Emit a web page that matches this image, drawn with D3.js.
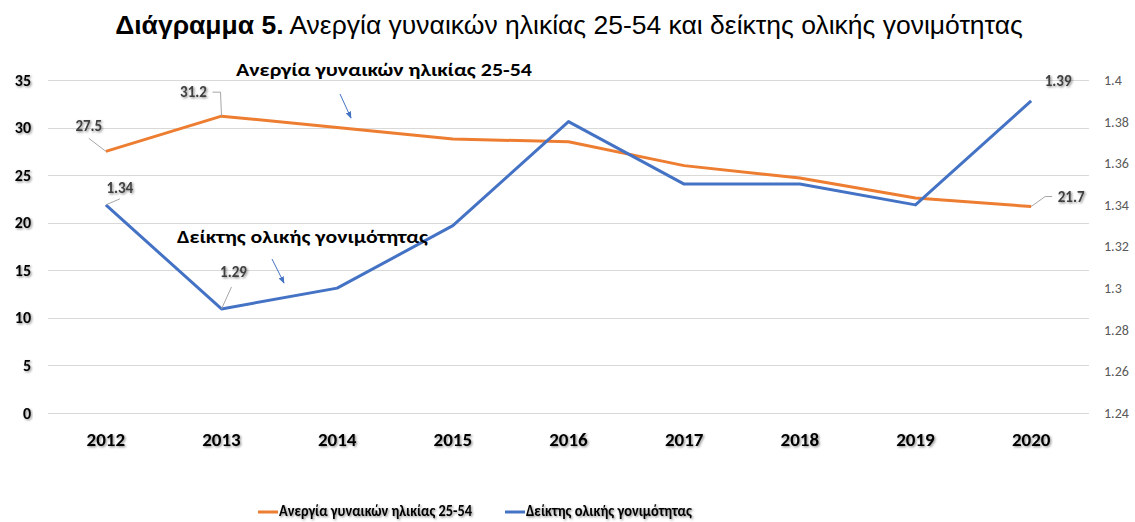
<!DOCTYPE html>
<html>
<head>
<meta charset="utf-8">
<script src="https://cdn.jsdelivr.net/npm/d3@7"></script>
<style>
  html, body { margin: 0; padding: 0; background: #fff; }
  svg { display: block; }
  .cal { font-family: Carlito, "Open Sans", sans-serif; }
</style>
</head>
<body>
<svg id="chart" width="1135" height="522"></svg>
<script>
// Years on the horizontal axis
const years = ["2012", "2013", "2014", "2015", "2016", "2017", "2018", "2019", "2020"];
// Unemployment of women aged 25-54 (%), left axis
const unemployment = [27.5, 31.2, 30.0, 28.8, 28.5, 26.0, 24.7, 22.6, 21.7];
// Total fertility rate, right axis
const fertility = [1.34, 1.29, 1.30, 1.33, 1.38, 1.35, 1.35, 1.34, 1.39];
// Axis ticks
const leftTicks = [0, 5, 10, 15, 20, 25, 30, 35];
const rightTicks = [1.24, 1.26, 1.28, 1.30, 1.32, 1.34, 1.36, 1.38, 1.40];
const seriesNames = ["Ανεργία γυναικών ηλικίας 25-54", "Δείκτης ολικής γονιμότητας"];
const colors = ["#ED7D31", "#4472C4"];

const svg = d3.select("#chart");

// soft shadow used on bold labels
const defs = svg.append("defs");
const f = defs.append("filter").attr("id", "shadow").attr("x", "-20%").attr("y", "-30%").attr("width", "140%").attr("height", "160%");
f.append("feDropShadow").attr("dx", 1.2).attr("dy", 1.2).attr("stdDeviation", 0.9)
  .attr("flood-color", "#000").attr("flood-opacity", 0.45);
defs.append("marker").attr("id", "arrow").attr("viewBox", "0 0 10 10")
  .attr("refX", 9).attr("refY", 5).attr("markerWidth", 7).attr("markerHeight", 7)
  .attr("orient", "auto-start-reverse")
  .append("path").attr("d", "M0,1 L10,5 L0,9 Z").attr("fill", "#4472C4");

const plotLeft = 48, plotRight = 1089, plotTop = 80, plotBottom = 413;
const x = d3.scaleBand().domain(years).range([plotLeft, plotRight]).padding(0);
const cx = d => x(d) + x.bandwidth() / 2;
const yL = d3.scaleLinear().domain([0, 35]).range([plotBottom, plotTop]);
const yR = d3.scaleLinear().domain([1.24, 1.40]).range([plotBottom, plotTop]);

// Title
const title = svg.append("text").attr("x", 569).attr("y", 34).attr("text-anchor", "middle")
  .style("font-family", "'Liberation Sans', Arial, sans-serif").style("font-size", "26.5px").attr("fill", "#000");
title.append("tspan").attr("font-weight", "bold").text("Διάγραμμα 5.");
title.append("tspan").text(" Ανεργία γυναικών ηλικίας 25-54 και δείκτης ολικής γονιμότητας");

// Gridlines
svg.append("g").selectAll("line").data(leftTicks).join("line")
  .attr("x1", plotLeft).attr("x2", plotRight)
  .attr("y1", d => Math.round(yL(d)) + 0.5).attr("y2", d => Math.round(yL(d)) + 0.5)
  .attr("stroke", "#d9d9d9").attr("stroke-width", 1);

// Left axis
const gL = svg.append("g").attr("transform", `translate(${plotLeft},0)`)
  .call(d3.axisLeft(yL).tickValues(leftTicks).tickSize(0).tickPadding(17));
gL.select(".domain").remove();
gL.selectAll("text").attr("class", "cal").style("font-size", "16px").style("font-weight", "bold")
  .attr("fill", "#000").attr("filter", "url(#shadow)").attr("font-family", null);

// Right axis
const gR = svg.append("g").attr("transform", `translate(${plotRight},0)`)
  .call(d3.axisRight(yR).tickValues(rightTicks).tickSize(0).tickPadding(15)
    .tickFormat(d => String(+d.toFixed(2))));
gR.select(".domain").remove();
gR.selectAll("text").attr("class", "cal").style("font-size", "14px")
  .attr("fill", "#595959").attr("font-family", null);

// Bottom axis
const gX = svg.append("g").attr("transform", `translate(0,${plotBottom})`)
  .call(d3.axisBottom(x).tickSize(0).tickPadding(20));
gX.select(".domain").remove();
gX.selectAll("text").attr("class", "cal").style("font-size", "19px").style("font-weight", "bold")
  .attr("fill", "#000").attr("filter", "url(#shadow)").attr("font-family", null);

// Lines
const lineL = d3.line().x((d, i) => cx(years[i])).y(d => yL(d));
const lineR = d3.line().x((d, i) => cx(years[i])).y(d => yR(d));
svg.append("path").datum(unemployment).attr("d", lineL).attr("fill", "none")
  .attr("stroke", colors[0]).attr("stroke-width", 3).attr("stroke-linejoin", "round");
svg.append("path").datum(fertility).attr("d", lineR).attr("fill", "none")
  .attr("stroke", colors[1]).attr("stroke-width", 3).attr("stroke-linejoin", "round");

// Data labels with leader lines
const labels = [
  { yr: "2012", v: unemployment[0], s: yL, txt: "27.5", dx: -17, dy: -25, lead: [[-17, -13], [0, 0]] },
  { yr: "2013", v: unemployment[1], s: yL, txt: "31.2", dx: -28, dy: -24, lead: [[-9, -24], [-1, -24], [0, 0]] },
  { yr: "2012", v: fertility[0], s: yR, txt: "1.34", dx: 14, dy: -17, lead: [[14, -6], [0, 0]] },
  { yr: "2013", v: fertility[1], s: yR, txt: "1.29", dx: 12, dy: -37, lead: [[10, -22], [0, 0]] },
  { yr: "2020", v: fertility[8], s: yR, txt: "1.39", dx: 27, dy: -20, lead: null },
  { yr: "2020", v: unemployment[8], s: yL, txt: "21.7", dx: 40, dy: -10, lead: [[0, 0], [14, -10], [21, -10]] }
];
labels.forEach(l => {
  const px = cx(l.yr), py = l.s(l.v);
  if (l.lead) {
    svg.append("path").attr("d", d3.line()(l.lead.map(p => [px + p[0], py + p[1]])))
      .attr("fill", "none").attr("stroke", "#a6a6a6").attr("stroke-width", 1);
  }
  svg.append("text").attr("class", "cal").attr("x", px + l.dx).attr("y", py + l.dy)
    .attr("text-anchor", "middle").attr("dominant-baseline", "central")
    .style("font-size", "15px").style("font-weight", "bold").attr("fill", "#404040")
    .attr("filter", "url(#shadow)").text(l.txt);
});

// Series annotations with arrows
svg.append("text").attr("class", "cal").attr("x", 236).attr("y", 76)
  .style("font-size", "18px").style("font-weight", "bold").attr("fill", "#000")
  .attr("textLength", 296).attr("lengthAdjust", "spacingAndGlyphs").text(seriesNames[0]);
svg.append("line").attr("x1", 340).attr("y1", 94).attr("x2", 351).attr("y2", 118)
  .attr("stroke", "#4472C4").attr("stroke-width", 1).attr("marker-end", "url(#arrow)");
svg.append("text").attr("class", "cal").attr("x", 177).attr("y", 243)
  .style("font-size", "18px").style("font-weight", "bold").attr("fill", "#000")
  .attr("textLength", 251).attr("lengthAdjust", "spacingAndGlyphs").text(seriesNames[1]);
svg.append("line").attr("x1", 272).attr("y1", 259).attr("x2", 284).attr("y2", 283)
  .attr("stroke", "#4472C4").attr("stroke-width", 1).attr("marker-end", "url(#arrow)");

// Legend
const legendX = [258, 505], legendW = [193, 166];
seriesNames.forEach((n, i) => {
  svg.append("line").attr("x1", legendX[i]).attr("x2", legendX[i] + 20)
    .attr("y1", 512).attr("y2", 512).attr("stroke", colors[i]).attr("stroke-width", 3);
  svg.append("text").attr("class", "cal").attr("x", legendX[i] + 21).attr("y", 516)
    .style("font-size", "15.5px").style("font-weight", "bold").attr("fill", "#000")
    .attr("filter", "url(#shadow)")
    .attr("textLength", legendW[i]).attr("lengthAdjust", "spacingAndGlyphs").text(n);
});
</script>
</body>
</html>
